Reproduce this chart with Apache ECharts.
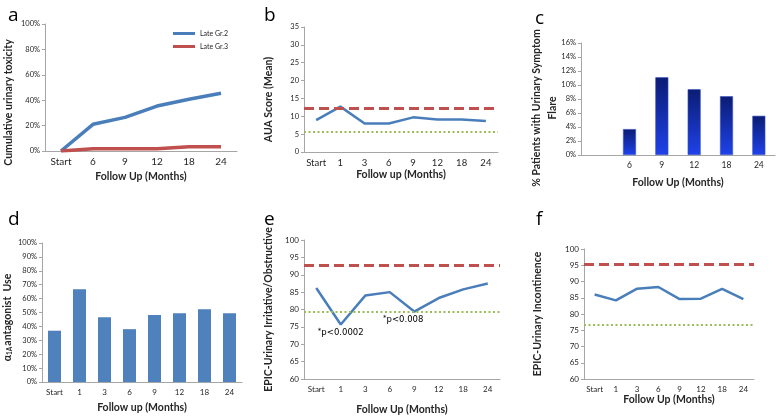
<!DOCTYPE html>
<html><head><meta charset="utf-8">
<script src="https://cdn.jsdelivr.net/npm/echarts@6/dist/echarts.min.js"></script>
<style>html,body{margin:0;padding:0;background:#fff}#c{width:778px;height:416px}</style>
</head><body><div id="c"></div>
<script>
// ---- data ----
const catsA = ['Start','6','9','12','18','24'];
const lateGr2 = [0,21,26.5,35.4,40.7,45.4];
const lateGr3 = [0,1.8,1.8,1.8,3.4,3.4];
const catsB = ['Start','1','3','6','9','12','18','24'];
const auaMean = [8.9,12.7,8.0,8.0,9.7,9.1,9.1,8.7];
const auaRef = [12.2, 5.6];
const catsC = ['','6','9','12','18','24'];
const flarePct = [null,3.7,11.1,9.4,8.4,5.6];
const flareTitleLines = ['% Patients with Urinary Symptom', 'Flare'];
const catsD = ['Start','1','3','6','9','12','18','24'];
const alphaUse = [36.9,66.7,46.5,38,48.2,49.4,52.3,49.4];
const catsE = ['Start','1','3','6','9','12','18','24'];
const epicIO = [86.2,75.7,84.0,85.0,79.4,83.3,85.8,87.5];
const epicIORef = [92.7, 79.3];
const epicIONotes = {1:'*p<0.0002', 4:'*p<0.008'};
const catsF = ['Start','1','3','6','9','12','18','24'];
const epicInc = [86.0,84.2,87.8,88.3,84.6,84.7,87.7,84.6];
const epicIncRef = [95.4, 76.8];

const FONT = 'Lato, "Open Sans", sans-serif';
const BLUE = '#4a7ebb', RED = '#c0504d', GREEN = '#9bbb59', AX = '#a6a6a6', TXT = '#262626';

function xAx(i, cats, name, gap, fs) {
  return {gridIndex:i, type:'category', data:cats, boundaryGap:true,
    axisLine:{lineStyle:{color:AX, width:1}}, axisTick:{show:false},
    axisLabel:{color:TXT, fontSize:fs, fontFamily:FONT, margin:6, interval:0},
    name:name, nameLocation:'middle', nameGap:gap,
    nameTextStyle:{color:TXT, fontSize:10.5, fontWeight:'bold', fontFamily:FONT}};
}
const nameRich = {
  a:{fontSize:10.5, fontWeight:'bold', fontFamily:FONT, color:TXT},
  s:{fontSize:6.5, fontWeight:'bold', fontFamily:FONT, color:TXT, verticalAlign:'bottom', padding:[4,1,0,0]}
};
function yAx(i, min, max, step, fmt, name, gap, fs, pad) {
  return {gridIndex:i, type:'value', min:min, max:max, interval:step,
    axisLine:{show:true, lineStyle:{color:AX, width:1}},
    axisTick:{show:true, length:3, lineStyle:{color:AX}},
    splitLine:{show:false},
    axisLabel:{color:TXT, fontSize:fs, fontFamily:FONT, margin:5, formatter:fmt},
    name:name, nameLocation:'middle', nameGap:gap,
    nameTextStyle:{color:TXT, fontSize:10.5, fontWeight:'bold', fontFamily:FONT, padding:pad||0, rich:nameRich}};
}
function refLines(vals) {
  return {symbol:'none', silent:true, label:{show:false},
    data:[
      {yAxis:vals[0], lineStyle:{color:RED, width:3, type:[10,5]}},
      {yAxis:vals[1], lineStyle:{color:GREEN, width:2, type:[2,2.5]}}
    ]};
}

const chart = echarts.init(document.getElementById('c'), null, {renderer:'canvas'});
const letters = ['a','b','c','d','e','f'];
const letterPos = [[3,1],[259,1],[530,4],[3,205],[259,205],[531,205]];

chart.setOption({
  animation:false,
  backgroundColor:'#fff',
  title: letters.map((t,k)=>({text:t, left:letterPos[k][0], top:letterPos[k][1],
    textStyle:{fontSize:19, fontWeight:'normal', fontFamily:'"Open Sans", sans-serif', color:'#000'}})),
  legend:{left:168, top:25, orient:'vertical', itemWidth:22, itemHeight:3, itemGap:6, icon:'rect',
    textStyle:{fontSize:7, fontFamily:FONT, color:TXT}, data:['Late Gr.2','Late Gr.3']},
  graphic: flareTitleLines.map((line,k)=>({type:'text', x:537 + k*16, y:108, rotation:Math.PI/2, silent:true,
      style:{text:line, align:'center', verticalAlign:'middle',
        font:'bold 10.5px Lato, "Open Sans", sans-serif', fill:TXT}})),
  grid:[
    {left:45, top:24, width:192, height:127},
    {left:304, top:27, width:194, height:125},
    {left:581, top:43, width:194, height:112},
    {left:42, top:243, width:200, height:139},
    {left:304, top:240, width:196, height:140},
    {left:584, top:249, width:170, height:130}
  ],
  xAxis:[
    xAx(0, catsA, 'Follow Up (Months)', 20, 10),
    xAx(1, catsB, 'Follow up (Months)', 15, 9.5),
    xAx(2, catsC, 'Follow Up (Months)', 22, 8.5),
    xAx(3, catsD, 'Follow up (Months)', 20, 8),
    xAx(4, catsE, 'Follow Up (Months)', 25, 8),
    xAx(5, catsF, 'Follow Up (Months)', 15, 8)
  ],
  yAxis:[
    yAx(0, 0, 100, 20, '{value}%', 'Cumulative urinary toxicity', 31, 7.5, [0,30,0,0]),
    yAx(1, 0, 35, 5, '{value}', 'AUA Score (Mean)', 30, 7.5, [0,20,0,0]),
    yAx(2, 0, 16, 2, '{value}%', '', 23, 7.5, 0),
    yAx(3, 0, 100, 10, '{value}%', '{a|α}{s|1A}{a|antagonist  Use}', 29, 7.5, [0,10,0,0]),
    yAx(4, 60, 100, 5, '{value}', 'EPIC-Urinary Irritative/Obstructive', 30, 8, [0,0,0,0]),
    yAx(5, 60, 100, 5, '{value}', 'EPIC-Urinary Incontinence', 41, 8, [0,0,0,0])
  ],
  series:[
    {name:'Late Gr.2', type:'line', xAxisIndex:0, yAxisIndex:0, data:lateGr2, showSymbol:false,
      lineStyle:{color:BLUE, width:3.5}, itemStyle:{color:BLUE}},
    {name:'Late Gr.3', type:'line', xAxisIndex:0, yAxisIndex:0, data:lateGr3, showSymbol:false,
      lineStyle:{color:RED, width:3.5}, itemStyle:{color:RED}},
    {type:'line', xAxisIndex:1, yAxisIndex:1, data:auaMean, showSymbol:false,
      lineStyle:{color:BLUE, width:2.5}, itemStyle:{color:BLUE}, markLine:refLines(auaRef)},
    {type:'bar', xAxisIndex:2, yAxisIndex:2, data:flarePct, barWidth:13,
      itemStyle:{borderColor:'#3a55c8', borderWidth:0.6,
        color:{type:'linear', x:0, y:0, x2:0, y2:1, colorStops:[{offset:0,color:'#0b1c72'},{offset:1,color:'#1f42ea'}]}}},
    {type:'bar', xAxisIndex:3, yAxisIndex:3, data:alphaUse, barWidth:13, itemStyle:{color:'#4f81bd'}},
    {type:'line', xAxisIndex:4, yAxisIndex:4, symbol:'circle', symbolSize:0, showSymbol:true,
      data:epicIO.map((v,k)=> epicIONotes[k] ? {value:v, label:{show:true, position:'bottom', distance:3,
        offset: k===4?[-11,0]:[0,0],
        formatter:'{s|*}{t|'+epicIONotes[k].slice(1)+'}',
        rich:{s:{fontSize:7, color:'#000', fontFamily:'"DejaVu Sans", sans-serif', verticalAlign:'top', padding:[0,0,3,0]},
              t:{fontSize:8.5, color:'#000', fontFamily:'"DejaVu Sans", sans-serif'}}}} : v),
      lineStyle:{color:BLUE, width:2.5}, itemStyle:{color:BLUE}, markLine:refLines(epicIORef)},
    {type:'line', xAxisIndex:5, yAxisIndex:5, data:epicInc, showSymbol:false,
      lineStyle:{color:BLUE, width:2.5}, itemStyle:{color:BLUE}, markLine:refLines(epicIncRef)}
  ]
});
</script></body></html>
